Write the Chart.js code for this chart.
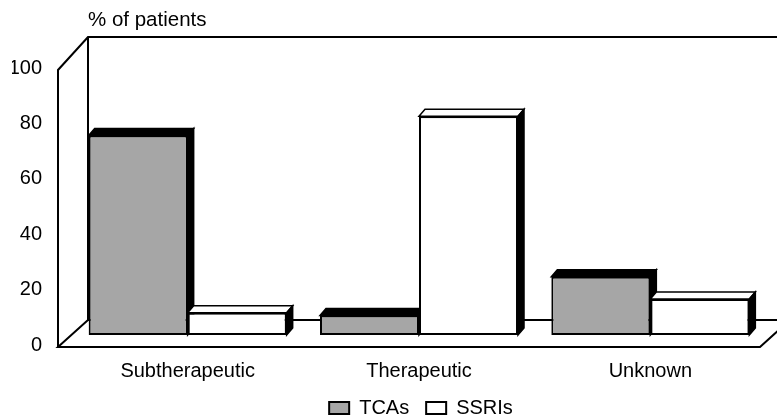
<!DOCTYPE html>
<html>
<head>
<meta charset="utf-8">
<script src="https://cdn.jsdelivr.net/npm/chart.js@4"></script>
<style>
  html, body { margin: 0; padding: 0; background: #fff; }
</style>
</head>
<body>
<canvas id="chart" width="777" height="416"></canvas>
<script>
const categories = ["Subtherapeutic", "Therapeutic", "Unknown"];
const seriesNames = ["TCAs", "SSRIs"];
const tcaValues = [72, 7, 21];
const ssriValues = [8, 79, 13];
const yTicks = [0, 20, 40, 60, 80, 100];
const axisTitle = "% of patients";

const FONT = "'Liberation Sans', Arial, Helvetica, sans-serif";
const GRAY = "#a6a6a6";

// 3D look: offsets of the front and back planes from the bar plane
const front = { dx: -14, dy: 12 };
const back = { dx: 16, dy: -15 };
const backTopDy = -21;
const barDepth = { dx: 6, dy: -7 };
const topColors = ["#000000", "#ffffff"];

const box3d = {
  id: "box3d",
  beforeDatasetsDraw(chart) {
    const ctx = chart.ctx;
    const ys = chart.scales.y;
    const a = chart.chartArea;
    const y0 = ys.getPixelForValue(yTicks[0]);
    const yTop = ys.getPixelForValue(yTicks[yTicks.length - 1]);
    const fl = a.left + front.dx;
    const bl = a.left + back.dx;
    const fr = a.right - 6;
    const br = fr + (back.dx - front.dx);

    ctx.save();
    ctx.strokeStyle = "#000";
    ctx.lineWidth = 2;
    ctx.beginPath();
    // left wall + back wall top
    ctx.moveTo(fl, y0 + front.dy);
    ctx.lineTo(fl, yTop + front.dy);
    ctx.lineTo(bl, yTop + backTopDy);
    ctx.lineTo(chart.width + 5, yTop + backTopDy);
    ctx.moveTo(bl, yTop + backTopDy);
    ctx.lineTo(bl, y0 + back.dy);
    // floor
    ctx.moveTo(fl, y0 + front.dy);
    ctx.lineTo(fr, y0 + front.dy);
    ctx.lineTo(br, y0 + back.dy);
    ctx.lineTo(bl, y0 + back.dy);
    ctx.closePath();
    ctx.stroke();

    // top and side faces of the bars
    ctx.lineWidth = 1.5;
    chart.data.datasets.forEach((ds, di) => {
      chart.getDatasetMeta(di).data.forEach((bar) => {
        const p = bar.getProps(["x", "y", "base", "width"], true);
        const l = p.x - p.width / 2;
        const r = p.x + p.width / 2;
        const t = p.y;
        const b = p.base;
        const { dx, dy } = barDepth;

        ctx.beginPath();
        ctx.moveTo(l, t);
        ctx.lineTo(l + dx, t + dy);
        ctx.lineTo(r + dx, t + dy);
        ctx.lineTo(r, t);
        ctx.closePath();
        ctx.fillStyle = topColors[di];
        ctx.fill();
        ctx.stroke();

        ctx.beginPath();
        ctx.moveTo(r, t);
        ctx.lineTo(r + dx, t + dy);
        ctx.lineTo(r + dx, b + dy);
        ctx.lineTo(r, b);
        ctx.closePath();
        ctx.fillStyle = "#000";
        ctx.fill();
        ctx.stroke();
      });
    });
    ctx.restore();
  },
  afterDraw(chart) {
    const ctx = chart.ctx;
    ctx.save();
    ctx.font = "20.5px " + FONT;
    ctx.fillStyle = "#000";
    ctx.textAlign = "left";
    ctx.textBaseline = "middle";
    ctx.fillText(axisTitle, chart.chartArea.left + back.dx, 20);
    ctx.restore();
  },
};

// the legend sits a bit right of centre in the original
const legendShift = {
  id: "legendShift",
  afterLayout(chart) {
    const lg = chart.legend;
    lg.left += 32;
    lg.right += 32;
    lg.top -= 2;
    lg.bottom -= 2;
  },
};

new Chart(document.getElementById("chart"), {
  type: "bar",
  data: {
    labels: categories,
    datasets: [
      {
        label: seriesNames[0],
        data: tcaValues,
        backgroundColor: GRAY,
        borderColor: "#000",
        borderWidth: 2,
        borderSkipped: false,
      },
      {
        label: seriesNames[1],
        data: ssriValues,
        backgroundColor: "#ffffff",
        borderColor: "#000",
        borderWidth: 2,
        borderSkipped: false,
      },
    ],
  },
  options: {
    responsive: false,
    animation: false,
    devicePixelRatio: 1,
    layout: { padding: { left: 12, right: 11, top: 58, bottom: -14 } },
    datasets: {
      bar: { categoryPercentage: 0.856, barPercentage: 1 },
    },
    scales: {
      x: {
        grid: { display: false, drawTicks: false },
        border: { display: false },
        ticks: {
          color: "#000",
          font: { family: FONT, size: 20 },
          padding: 24,
          maxRotation: 0,
        },
        afterFit: (s) => { s.height = 48; },
      },
      y: {
        min: 0,
        max: 100,
        afterBuildTicks: (s) => { s.ticks = yTicks.map((v) => ({ value: v })); },
        grid: { display: false, drawTicks: false },
        border: { display: false },
        ticks: {
          color: "#000",
          font: { family: FONT, size: 20 },
          padding: 30,
          labelOffset: 10,
        },
        afterFit: (s) => { s.width = 60; },
      },
    },
    plugins: {
      tooltip: { enabled: false },
      legend: {
        position: "bottom",
        labels: {
          color: "#000",
          font: { family: FONT, size: 20 },
          boxWidth: 20,
          boxHeight: 12,
          padding: 17,
        },
      },
    },
  },
  plugins: [box3d, legendShift],
});
</script>
</body>
</html>
